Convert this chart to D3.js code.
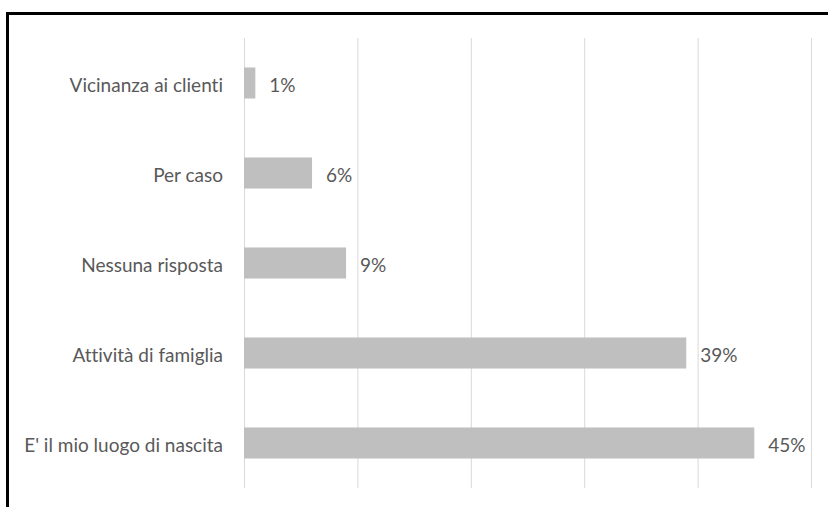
<!DOCTYPE html>
<html><head><meta charset="utf-8">
<script src="https://cdn.jsdelivr.net/npm/d3@7"></script>
<style>html,body{margin:0;padding:0;background:#fff;} text{font-variant-ligatures:none;font-feature-settings:"liga" 0;}</style>
</head><body>
<svg id="chart" width="828" height="507"></svg>
<script>
const categories = ["Vicinanza ai clienti","Per caso","Nessuna risposta","Attività di famiglia","E' il mio luogo di nascita"];
const values = [0.01, 0.06, 0.09, 0.39, 0.45];
const valueLabels = ["1%","6%","9%","39%","45%"];
const gridTicks = [0, 0.1, 0.2, 0.3, 0.4, 0.5];

const svg = d3.select("#chart");
const x = d3.scaleLinear().domain([0, 0.5]).range([244, 811]);
const y = d3.scaleBand().domain(categories).range([38, 488]).paddingInner(0.655).paddingOuter(0.3275);

// frame
svg.append("path").attr("d","M7.5,507V13.5H828").attr("fill","none").attr("stroke","#000").attr("stroke-width",3);

// gridlines
const grid = svg.append("g").attr("transform","translate(0,488)")
  .call(d3.axisBottom(x).tickValues(gridTicks).tickSize(-450).tickFormat(""));
grid.select(".domain").remove();
grid.selectAll(".tick line").attr("stroke","#d9d9d9").attr("stroke-width",1);

// bars
svg.append("g").selectAll("rect").data(categories).join("rect")
  .attr("x", x(0)).attr("y", d => y(d))
  .attr("width", (d,i) => x(values[i]) - x(0))
  .attr("height", y.bandwidth())
  .attr("fill","#bfbfbf");

const font = "Lato, 'Noto Sans', sans-serif";
// category labels
svg.append("g").selectAll("text").data(categories).join("text")
  .attr("x", 223).attr("y", d => y(d) + y.bandwidth()/2 + 1)
  .attr("text-anchor","end").attr("dominant-baseline","central")
  .attr("font-family", font).attr("font-size", 19).attr("fill","#595959")
  .text(d => d);

// value labels
svg.append("g").selectAll("text").data(categories).join("text")
  .attr("x", (d,i) => x(values[i]) + 14).attr("y", d => y(d) + y.bandwidth()/2 + 1)
  .attr("dominant-baseline","central")
  .attr("font-family", font).attr("font-size", 19).attr("fill","#595959")
  .text((d,i) => valueLabels[i]);
</script>
</body></html>
